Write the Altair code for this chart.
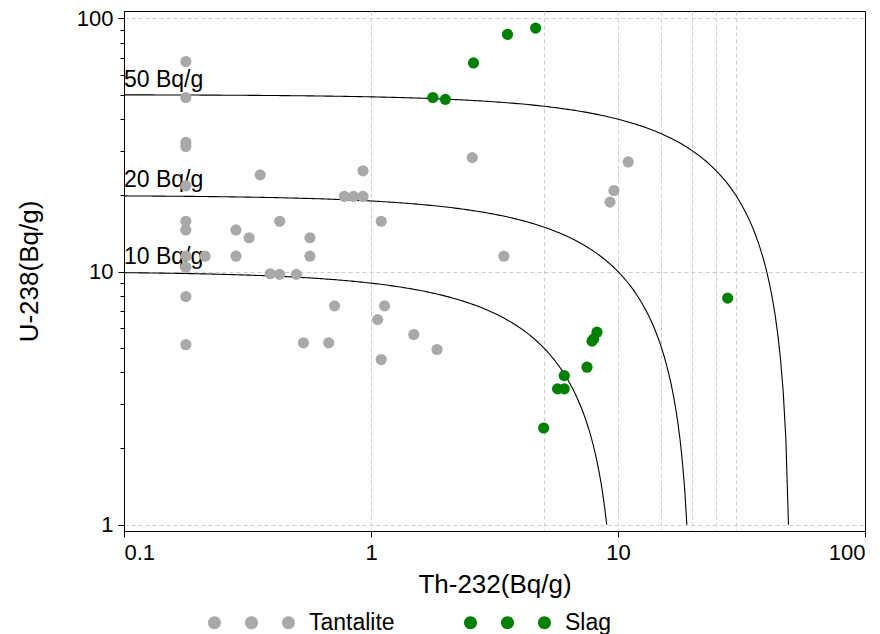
import altair as alt
import pandas as pd

# Tantalite samples (Th-232, U-238) in Bq/g
tan_th = [0.178, 0.178, 0.178, 0.178, 0.178, 0.178, 0.178, 0.178, 0.178, 0.178, 0.178,
          0.356, 0.928, 0.780, 0.850, 0.928, 0.427, 1.10, 0.284, 0.321, 0.566, 0.213,
          0.284, 0.566, 0.391, 0.427, 0.499, 0.712, 0.533, 0.674, 1.135, 1.064, 1.10,
          1.49, 1.85, 2.57, 3.45, 11.0, 9.63, 9.28]
tan_u = [67.6, 48.7, 32.4, 31.2, 21.8, 15.8, 14.6, 11.5, 10.4, 7.96, 5.14,
         24.1, 25.0, 19.8, 19.8, 19.8, 15.8, 15.8, 14.6, 13.6, 13.6, 11.5,
         11.5, 11.5, 9.8, 9.75, 9.75, 7.32, 5.23, 5.23, 7.32, 6.46, 4.49,
         5.64, 4.92, 28.2, 11.5, 27.1, 20.9, 18.8]

# Slag samples
slag_th = [2.60, 1.78, 2.00, 3.57, 4.64, 27.8, 8.22, 7.97, 7.85, 7.49, 6.06, 5.69, 6.06, 5.0]
slag_u = [66.7, 48.7, 47.9, 86.5, 91.6, 7.85, 5.76, 5.42, 5.31, 4.19, 3.88, 3.44, 3.44, 2.41]

groups = ["Tantalite", "Slag"]
colors = ["#a9a9a9", "#008000"]

# iso-activity levels (U + Th = level)
levels = [10, 20, 50]

x_ticks = [0.1, 1, 10, 100]
x_grid = [1, 5, 10, 15, 20, 25, 30]
y_ticks = [1, 10, 100]
y_minor = [2, 3, 4, 5, 6, 7, 8, 9, 20, 30, 40, 50, 60, 70, 80, 90]

x_domain = [0.1, 100]
y_domain = [0.944, 107]

pts = pd.DataFrame({
    "th": tan_th + slag_th,
    "u": tan_u + slag_u,
    "group": ["Tantalite"] * len(tan_th) + ["Slag"] * len(slag_th),
})
lev = pd.DataFrame({"level": levels})

FONT = "Liberation Sans"
xs = alt.Scale(type="log", domain=x_domain, nice=False)
ys = alt.Scale(type="log", domain=y_domain, nice=False)

# custom legend symbol: three circles in a row
three = ("M-6.69,0A1,1,0,1,0,-4.69,0A1,1,0,1,0,-6.69,0Z "
         "M-1,0A1,1,0,1,0,1,0A1,1,0,1,0,-1,0Z "
         "M4.69,0A1,1,0,1,0,6.69,0A1,1,0,1,0,4.69,0Z")

points = alt.Chart(pts).mark_circle(size=125, opacity=1).encode(
    x=alt.X("th:Q", scale=xs, axis=alt.Axis(
        orient="bottom", values=x_ticks, format="~g", grid=False, tickSize=6,
        labelFontSize=22, labelPadding=5, title="Th-232(Bq/g)", titleFontSize=26,
        titleFontWeight="normal", titleY=53, titleBaseline="middle",
        domainColor="black", tickColor="black", labelColor="black", titleColor="black")),
    y=alt.Y("u:Q", scale=ys, axis=alt.Axis(
        orient="left", values=y_ticks, format="~g", grid=False, tickSize=6,
        labelFontSize=22, labelPadding=5, title="U-238(Bq/g)", titleFontSize=26,
        titleFontWeight="normal", titleX=-95, titleY=260, titleAngle=-90,
        titleAlign="center", titleBaseline="middle",
        domainColor="black", tickColor="black", labelColor="black", titleColor="black")),
    color=alt.Color("group:N", scale=alt.Scale(domain=groups, range=colors), legend=alt.Legend(
        orient="none", legendX=116, legendY=600, direction="horizontal", title=None,
        symbolType=three, symbolSize=169, symbolOpacity=1, symbolStrokeWidth=0,
        labelFontSize=23, labelOffset=46, columnPadding=69, padding=0,
        labelColor="black", labelFont=FONT)),
)

curves = alt.Chart(lev).transform_calculate(
    ts="sequence(0, 1.0001, 0.004)"
).transform_flatten(["ts"]).transform_calculate(
    th="0.1 * pow((datum.level - 1) / 0.1, datum.ts)",
    u="datum.level - datum.th",
).mark_line(color="black", strokeWidth=1.1).encode(
    x=alt.X("th:Q", scale=xs, axis=alt.Axis(
        orient="bottom", values=x_grid, grid=True, labels=False, ticks=False, domain=False,
        title=None, gridColor="#cccccc", gridDash=[4, 3], gridWidth=1)),
    y=alt.Y("u:Q", scale=ys, axis=alt.Axis(
        orient="left", values=y_ticks, grid=True, labels=False, ticks=False, domain=False,
        title=None, gridColor="#cccccc", gridDash=[4, 3], gridWidth=1)),
    detail="level:N",
    order="ts:Q",
)

labels = alt.Chart(lev).transform_calculate(
    tx="0.1",
    ty="datum.level * 1.075",
    txt="datum.level + ' Bq/g'",
).mark_text(align="left", baseline="alphabetic", fontSize=23, font=FONT, color="black").encode(
    x=alt.X("tx:Q", scale=xs, axis=None),
    y=alt.Y("ty:Q", scale=ys, axis=alt.Axis(
        orient="left", values=y_minor, grid=False, labels=False, domain=False,
        tickSize=4, tickColor="black", title=None)),
    text="txt:N",
)

chart = alt.layer(curves, labels, points).resolve_axis(
    x="independent", y="independent"
).properties(
    width=741, height=520,
    autosize=alt.AutoSizeParams(type="none"),
    padding={"left": 124, "top": 11, "right": 15, "bottom": 103},
).configure(font=FONT).configure_view(stroke="black", strokeWidth=1)

chart.save("out.html", embed_options={"renderer": "svg", "actions": False})
